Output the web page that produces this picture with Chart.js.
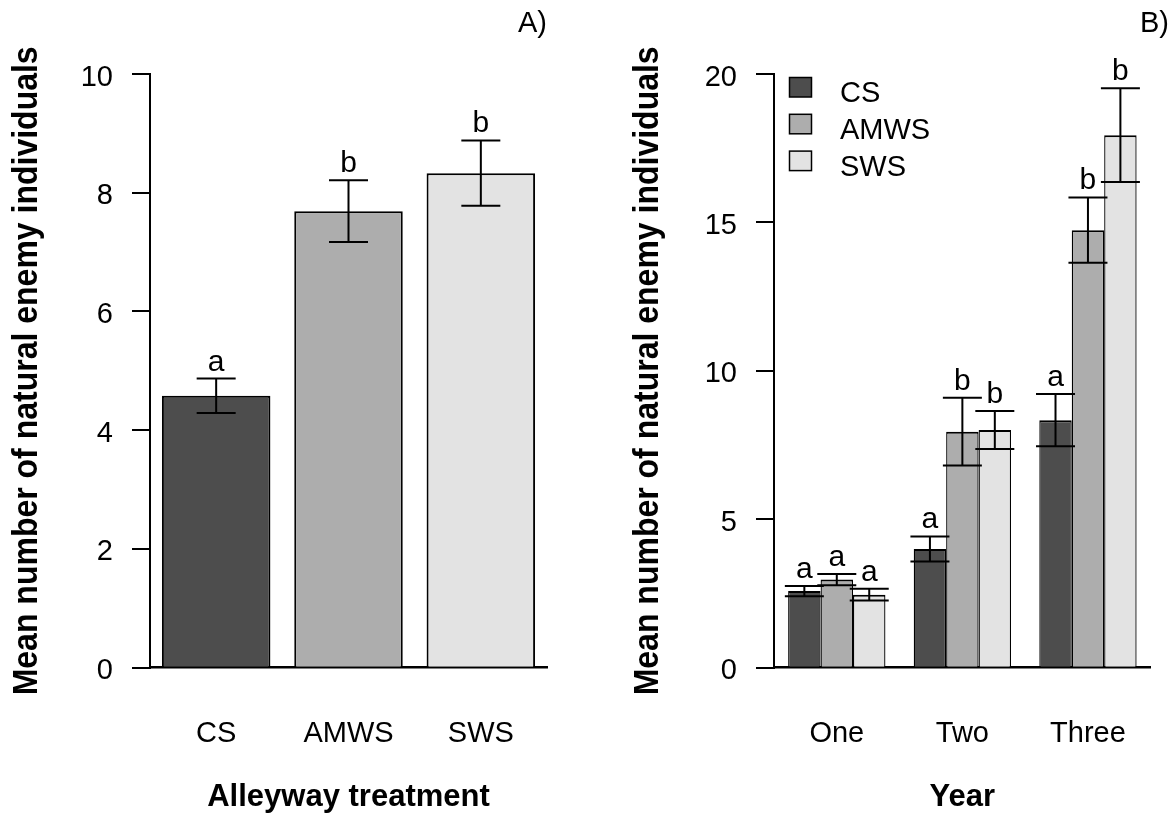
<!DOCTYPE html>
<html>
<head>
<meta charset="utf-8">
<script src="https://cdn.jsdelivr.net/npm/chart.js@4.4.1/dist/chart.umd.min.js"></script>
<style>
    html, body { margin: 0; padding: 0; background: #fff; }
    #wrap { position: relative; width: 1176px; height: 816px; }
    canvas { position: absolute; top: 0; }
    #panelA { left: 0; }
    #panelB { left: 588px; }
</style>
</head>
<body>
<div id="wrap">
    <canvas id="panelA" width="588" height="816"></canvas>
    <canvas id="panelB" width="588" height="816"></canvas>
</div>
<script>
// --- DATA ---

// Panel A: whole study, by alleyway treatment
const treatments = ['CS', 'AMWS', 'SWS'];
const treatMeans = [4.58, 7.69, 8.33];
const treatSE = [0.29, 0.52, 0.55];
const treatLetters = ['a', 'b', 'b'];
const treatTicks = [0, 2, 4, 6, 8, 10];

// Panel B: split by year
const years = ['One', 'Two', 'Three'];
const csMeans = [2.58, 4.00, 8.34];
const csSE = [0.17, 0.42, 0.88];
const csLetters = ['a', 'a', 'a'];
const amwsMeans = [2.97, 7.95, 14.74];
const amwsSE = [0.19, 1.14, 1.10];
const amwsLetters = ['a', 'b', 'b'];
const swsMeans = [2.46, 8.01, 17.94];
const swsSE = [0.20, 0.64, 1.58];
const swsLetters = ['a', 'b', 'b'];
const yearTicks = [0, 5, 10, 15, 20];

const yTitle = 'Mean number of natural enemy individuals';

// greys used by the original figure
const colors = { CS: '#4d4d4d', AMWS: '#adadad', SWS: '#e3e3e3' };
const FONT = '"Liberation Sans", Arial, sans-serif';

// --- PLUGINS ---

// error bars + significance letters, placed from the bar elements and y scale
const errorBars = {
    id: 'errorBars',
    afterDatasetsDraw(chart, args, opts) {
        const ctx = chart.ctx;
        const y = chart.scales.y;
        ctx.save();
        chart.data.datasets.forEach((ds, di) => {
            const meta = chart.getDatasetMeta(di);
            meta.data.forEach((bar, i) => {
                const top = y.getPixelForValue(ds.data[i] + ds.se[i]);
                const bot = y.getPixelForValue(ds.data[i] - ds.se[i]);
                ctx.strokeStyle = '#000';
                ctx.lineWidth = 2;
                ctx.beginPath();
                ctx.moveTo(bar.x, top); ctx.lineTo(bar.x, bot);
                ctx.moveTo(bar.x - opts.cap, top); ctx.lineTo(bar.x + opts.cap, top);
                ctx.moveTo(bar.x - opts.cap, bot); ctx.lineTo(bar.x + opts.cap, bot);
                ctx.stroke();
                ctx.fillStyle = '#000';
                ctx.font = '30px ' + FONT;
                ctx.textAlign = 'center';
                ctx.textBaseline = 'alphabetic';
                ctx.fillText(ds.letters[i], bar.x, top - 8);
            });
        });
        ctx.restore();
    }
};

// rotated y title (drawn here so it is not squeezed to the axis height)
const yLabel = {
    id: 'yLabel',
    afterDraw(chart, args, opts) {
        const { ctx, chartArea } = chart;
        ctx.save();
        ctx.translate(opts.x, (chartArea.top + chartArea.bottom) / 2);
        ctx.rotate(-Math.PI / 2);
        ctx.scale(1, 1.12); // glyphs in the original are a touch taller than wide
        ctx.font = 'bold 32px ' + FONT;
        ctx.fillStyle = '#000';
        ctx.textAlign = 'center';
        ctx.textBaseline = 'alphabetic';
        ctx.fillText(opts.text, 0, 0);
        ctx.restore();
    }
};

// legend with filled squares inside the plot, top left
const boxLegend = {
    id: 'boxLegend',
    afterDraw(chart, args, opts) {
        if (!opts.show) return;
        const { ctx, chartArea } = chart;
        ctx.save();
        chart.data.datasets.forEach((ds, i) => {
            const top = chartArea.top + 3.5 + i * 36.8;
            const left = chartArea.left + 15.5;
            ctx.fillStyle = ds.backgroundColor;
            ctx.fillRect(left, top, 22, 19.5);
            ctx.strokeStyle = '#000';
            ctx.lineWidth = 1.5;
            ctx.strokeRect(left, top, 22, 19.5);
            ctx.fillStyle = '#000';
            ctx.font = '29px ' + FONT;
            ctx.textAlign = 'left';
            ctx.textBaseline = 'alphabetic';
            ctx.fillText(ds.label, chartArea.left + 66, top + 24.5);
        });
        ctx.restore();
    }
};

// --- CHARTS ---

function panelOptions(p) {
    return {
        responsive: false,
        animation: false,
        layout: { padding: { left: 0, right: p.padRight, top: 0, bottom: 0 } },
        plugins: {
            legend: { display: false },
            tooltip: { enabled: false },
            title: {
                display: true, text: p.tag, align: 'end', color: '#000',
                font: { family: FONT, size: 29, weight: 'normal' },
                padding: { top: 6.5, bottom: 32.7 }
            },
            errorBars: { cap: 19.5 },
            yLabel: { x: p.yTitleX, text: yTitle },
            boxLegend: { show: p.legend }
        },
        scales: {
            x: {
                grid: { display: false, drawTicks: false },
                border: { display: true, color: '#000', width: 2.5 },
                ticks: { color: '#000', font: { family: FONT, size: 29 }, padding: 49, maxRotation: 0 },
                title: {
                    display: true, text: p.xTitle, color: '#000',
                    font: { family: FONT, size: 31, weight: 'bold' },
                    padding: { top: 0, bottom: 0 }
                },
                afterFit: s => { s.height = 816 - 667.7; }
            },
            y: {
                min: p.ticks[0],
                max: p.ticks[p.ticks.length - 1],
                grid: { drawOnChartArea: false, drawTicks: true, tickLength: 18, color: '#000', lineWidth: 2 },
                border: { display: true, color: '#000', width: 2 },
                ticks: {
                    stepSize: p.ticks[1] - p.ticks[0], color: '#000',
                    font: { family: FONT, size: 29 }, padding: 19, labelOffset: 3.5
                },
                afterFit: s => { s.width = p.yWidth; }
            }
        }
    };
}

new Chart(document.getElementById('panelA'), {
    type: 'bar',
    data: {
        labels: treatments,
        datasets: [{
            label: 'Treatment',
            data: treatMeans,
            se: treatSE,
            letters: treatLetters,
            backgroundColor: treatments.map(t => colors[t]),
            borderColor: '#000',
            borderWidth: 2,
            categoryPercentage: 0.82,
            barPercentage: 1
        }]
    },
    options: panelOptions({
        tag: 'A)', xTitle: 'Alleyway treatment', ticks: treatTicks,
        padRight: 41, yWidth: 150, yTitleX: 36.7, legend: false
    }),
    plugins: [errorBars, yLabel, boxLegend]
});

const yearSeries = [
    { label: 'CS', data: csMeans, se: csSE, letters: csLetters },
    { label: 'AMWS', data: amwsMeans, se: amwsSE, letters: amwsLetters },
    { label: 'SWS', data: swsMeans, se: swsSE, letters: swsLetters }
];

new Chart(document.getElementById('panelB'), {
    type: 'bar',
    data: {
        labels: years,
        datasets: yearSeries.map(s => ({
            label: s.label,
            data: s.data,
            se: s.se,
            letters: s.letters,
            backgroundColor: colors[s.label],
            borderColor: '#000',
            borderWidth: { top: 2, left: 1.3, right: 1.3, bottom: 0 },
            categoryPercentage: 0.775,
            barPercentage: 1
        }))
    },
    options: panelOptions({
        tag: 'B)', xTitle: 'Year', ticks: yearTicks,
        padRight: 7, yWidth: 186, yTitleX: 70.3, legend: true
    }),
    plugins: [errorBars, yLabel, boxLegend]
});
</script>
</body>
</html>
